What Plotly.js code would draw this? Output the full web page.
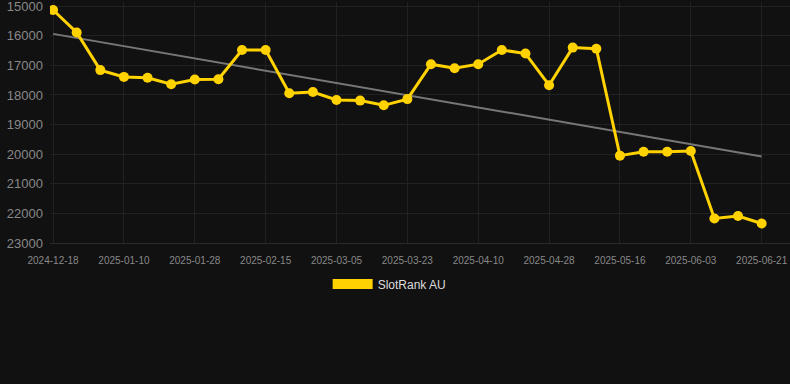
<!DOCTYPE html>
<html>
<head>
<meta charset="utf-8">
<script src="https://cdn.plot.ly/plotly-3.0.1.min.js"></script>
<style>html,body{margin:0;padding:0;background:#111111;}#chart{width:790px;height:384px;}</style>
</head>
<body>
<div id="chart"></div>
<script>
const dates = ["2024-12-18","2024-12-26","2025-01-03","2025-01-10","2025-01-16","2025-01-22","2025-01-28","2025-02-03","2025-02-09","2025-02-15","2025-02-21","2025-02-27","2025-03-05","2025-03-11","2025-03-17","2025-03-23","2025-03-29","2025-04-04","2025-04-10","2025-04-16","2025-04-22","2025-04-28","2025-05-04","2025-05-10","2025-05-16","2025-05-22","2025-05-28","2025-06-03","2025-06-09","2025-06-15","2025-06-21"];
const ranks = [15130,15890,17160,17390,17420,17640,17480,17470,16480,16480,17940,17900,18170,18190,18350,18140,16960,17100,16960,16480,16600,17670,16400,16440,20050,19920,19920,19890,22170,22090,22340];
const tickLabels = ["2024-12-18","2025-01-10","2025-01-28","2025-02-15","2025-03-05","2025-03-23","2025-04-10","2025-04-28","2025-05-16","2025-06-03","2025-06-21"];
const yTicks = [15000,16000,17000,18000,19000,20000,21000,22000,23000];
const seriesName = "SlotRank AU";

// linear trend (least squares) over point index
const n = ranks.length;
let sx=0, sy=0, sxy=0, sxx=0;
for (let i=0;i<n;i++){ sx+=i; sy+=ranks[i]; sxy+=i*ranks[i]; sxx+=i*i; }
const slope = (n*sxy - sx*sy)/(n*sxx - sx*sx);
const intercept = (sy - slope*sx)/n;
const trend = ranks.map((_,i)=>intercept + slope*i);

const gold = "#FFD200";
const traces = [
  {x: dates, y: trend, mode: "lines", line: {color: "#777777", width: 2}, showlegend: false, hoverinfo: "skip"},
  {x: dates, y: ranks, mode: "lines+markers", line: {color: gold, width: 3}, marker: {color: gold, size: 10}, showlegend: false},
  {x: [null], y: [null], mode: "lines", name: seriesName, line: {color: gold, width: 12}, showlegend: true}
];

const layout = {
  width: 790, height: 384,
  paper_bgcolor: "#111111", plot_bgcolor: "#111111",
  margin: {l: 50, r: 0, t: 2, b: 141, autoexpand: false},
  font: {family: "Liberation Sans, Arial, sans-serif", color: "#999999"},
  xaxis: {
    type: "category", range: [-0.13, 31.2], autorange: false,
    tickmode: "array", tickvals: tickLabels, ticktext: tickLabels, tickangle: 0,
    showgrid: true, gridcolor: "#222222", gridwidth: 1,
    zeroline: false, showline: true, linecolor: "#2a2a2a",
    tickfont: {size: 10, color: "#888888"}, ticks: "", ticklen: 0,
    ticklabelstandoff: 8, ticklabeloverflow: "allow"
  },
  yaxis: {
    range: [23000, 14860], autorange: false, tickmode: "array", tickvals: yTicks,
    ticktext: yTicks.map(String),
    showgrid: true, gridcolor: "#222222", zeroline: false,
    tickfont: {size: 13, color: "#888888"}, ticks: "", ticklen: 0,
    ticklabelstandoff: 6, ticklabeloverflow: "allow"
  },
  showlegend: true,
  legend: {orientation: "h", x: 0.459, xanchor: "center", y: -0.11, yanchor: "top",
           itemwidth: 40, font: {size: 12, color: "#dddddd"}, bgcolor: "rgba(0,0,0,0)"}
};

Plotly.newPlot("chart", traces, layout, {displayModeBar: false, staticPlot: true});
</script>
</body>
</html>
